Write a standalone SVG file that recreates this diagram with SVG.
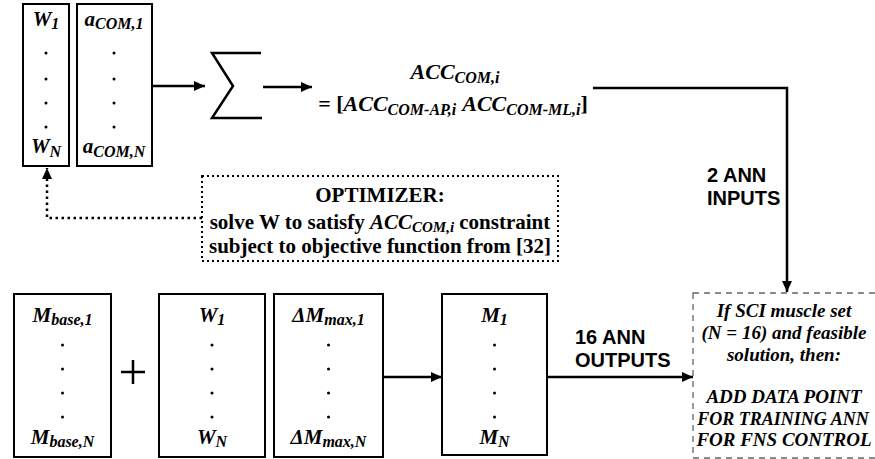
<svg xmlns="http://www.w3.org/2000/svg" width="875" height="459" viewBox="0 0 875 459">
<defs>
<style>
.box{fill:none;stroke:#000;stroke-width:2}
.m{font-family:"Liberation Serif","Times New Roman",serif;font-weight:bold;font-style:italic;font-size:21px;text-anchor:middle;fill:#000}
.s{font-size:16px}
.up{font-style:normal}
.opt{font-family:"Liberation Serif","Times New Roman",serif;font-weight:bold;font-size:21px;text-anchor:middle;fill:#000}
.sans{font-family:"Liberation Sans",Arial,sans-serif;font-weight:bold;font-size:20px;fill:#000}
.ln{fill:none;stroke:#000;stroke-width:2.5}
.dot{fill:#000}
.d{font-size:19px}
</style>
<marker id="ah" markerWidth="11" markerHeight="10" refX="11" refY="5" orient="auto" markerUnits="userSpaceOnUse">
<path d="M0,0 L11,5 L0,10 Z" fill="#000"/>
</marker>
</defs>
<rect width="875" height="459" fill="#fff"/>

<g id="w-top">
<rect class="box" x="23" y="4" width="46" height="162"/>
<text class="m" x="46" y="26">W<tspan class="s" dy="3">1</tspan></text>
<circle class="dot" cx="46" cy="53" r="1.5"/><circle class="dot" cx="46" cy="79" r="1.5"/><circle class="dot" cx="46" cy="103" r="1.5"/><circle class="dot" cx="46" cy="127" r="1.5"/>
<text class="m" x="46" y="153">W<tspan class="s" dy="4">N</tspan></text>
</g>

<g id="a-com">
<rect class="box" x="77" y="4" width="75" height="162"/>
<text class="m" x="114" y="26">a<tspan class="s" dy="3">COM,1</tspan></text>
<circle class="dot" cx="114" cy="53" r="1.5"/><circle class="dot" cx="114" cy="79" r="1.5"/><circle class="dot" cx="114" cy="103" r="1.5"/><circle class="dot" cx="114" cy="127" r="1.5"/>
<text class="m" x="114" y="153">a<tspan class="s" dy="4">COM,N</tspan></text>
</g>

<g id="sigma">
<polyline class="ln" points="261,53 212,53 233,86 212,118 262,118" stroke-linejoin="miter"/>
</g>

<g id="acc">
<text class="m" x="455" y="79" style="font-size:22px">ACC<tspan style="font-size:16px" dy="4">COM,i</tspan></text>
<text class="m" x="453" y="111" style="font-size:22px"><tspan class="up">= [</tspan>ACC<tspan style="font-size:16px" dy="4">COM-AP,i</tspan><tspan dy="-4" dx="6">ACC</tspan><tspan style="font-size:16px" dy="4">COM-ML,i</tspan><tspan class="up" dy="-4">]</tspan></text>
</g>

<g id="optimizer">
<rect x="202" y="176" width="356" height="85" fill="none" stroke="#000" stroke-width="2" stroke-dasharray="2 3"/>
<text class="opt" x="380" y="202">OPTIMIZER:</text>
<text class="opt" x="380" y="229">solve W to satisfy <tspan font-style="italic">ACC</tspan><tspan font-style="italic" font-size="15" dy="3">COM,i</tspan><tspan dy="-3"> constraint</tspan></text>
<text class="opt" x="380" y="253">subject to objective function from [32]</text>
</g>

<g id="m-base">
<rect class="box" x="14" y="294" width="97" height="163"/>
<text class="m" x="62.5" y="322">M<tspan class="s" dy="3">base,1</tspan></text>
<circle class="dot" cx="62.5" cy="345" r="1.5"/><circle class="dot" cx="62.5" cy="369" r="1.5"/><circle class="dot" cx="62.5" cy="393" r="1.5"/><circle class="dot" cx="62.5" cy="417" r="1.5"/>
<text class="m" x="62.5" y="444">M<tspan class="s" dy="3">base,N</tspan></text>
</g>

<g id="plus">
<path class="ln" d="M121,372 H145 M133,360 V384"/>
</g>

<g id="w-bottom">
<rect class="box" x="159" y="294" width="106" height="163"/>
<text class="m" x="212" y="322">W<tspan class="s" dy="3">1</tspan></text>
<circle class="dot" cx="212" cy="345" r="1.5"/><circle class="dot" cx="212" cy="369" r="1.5"/><circle class="dot" cx="212" cy="393" r="1.5"/><circle class="dot" cx="212" cy="417" r="1.5"/>
<text class="m" x="212" y="444">W<tspan class="s" dy="3">N</tspan></text>
</g>

<g id="dm-max">
<rect class="box" x="274" y="294" width="109" height="163"/>
<text class="m" x="328.5" y="322">ΔM<tspan class="s" dy="3">max,1</tspan></text>
<circle class="dot" cx="328.5" cy="345" r="1.5"/><circle class="dot" cx="328.5" cy="369" r="1.5"/><circle class="dot" cx="328.5" cy="393" r="1.5"/><circle class="dot" cx="328.5" cy="417" r="1.5"/>
<text class="m" x="328.5" y="444">ΔM<tspan class="s" dy="3">max,N</tspan></text>
</g>

<g id="m-out">
<rect class="box" x="442" y="294" width="105" height="161"/>
<text class="m" x="494.5" y="322">M<tspan class="s" dy="3">1</tspan></text>
<circle class="dot" cx="494.5" cy="345" r="1.5"/><circle class="dot" cx="494.5" cy="369" r="1.5"/><circle class="dot" cx="494.5" cy="393" r="1.5"/><circle class="dot" cx="494.5" cy="417" r="1.5"/>
<text class="m" x="494.5" y="444">M<tspan class="s" dy="3">N</tspan></text>
</g>

<g id="decision">
<rect x="693" y="293" width="190" height="165" fill="none" stroke="#666" stroke-width="1.3" stroke-dasharray="6 5"/>
<text class="m d" x="784" y="317">If SCI muscle set</text>
<text class="m d" x="784" y="339">(N = 16) and feasible</text>
<text class="m d" x="784" y="361">solution, then:</text>
<text class="m d" x="784" y="403">ADD DATA POINT</text>
<text class="m d" x="783" y="425" style="font-size:18px">FOR TRAINING ANN</text>
<text class="m d" x="784" y="446">FOR FNS CONTROL</text>
</g>

<g id="connectors">
<line class="ln" x1="152" y1="86" x2="205" y2="86" marker-end="url(#ah)"/>
<line class="ln" x1="263" y1="87" x2="312" y2="87" marker-end="url(#ah)"/>
<polyline class="ln" points="593,88 787,88 787,292" marker-end="url(#ah)"/>
<polyline points="202,218 47,218 47,168" fill="none" stroke="#000" stroke-width="2.5" stroke-dasharray="2.5 3.5" marker-end="url(#ah)"/>
<line class="ln" x1="383" y1="377" x2="442" y2="377" marker-end="url(#ah)"/>
<line class="ln" x1="547" y1="377" x2="693" y2="377" marker-end="url(#ah)"/>
<text class="sans" x="707" y="182">2 ANN</text>
<text class="sans" x="707" y="205">INPUTS</text>
<text class="sans" x="575" y="344">16 ANN</text>
<text class="sans" x="575" y="367">OUTPUTS</text>
</g>
</svg>
